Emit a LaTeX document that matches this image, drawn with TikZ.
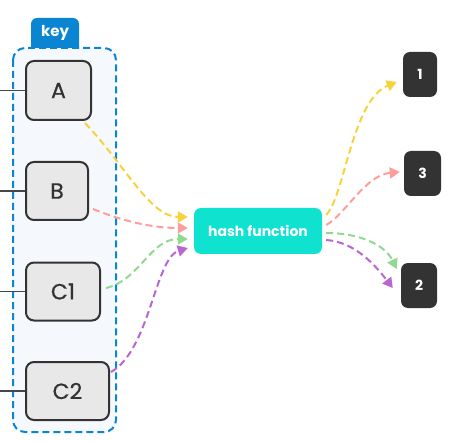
\documentclass[tikz,border=0pt]{standalone}
\usepackage{fontspec}
\setmainfont{Poppins}
\newfontfamily\medfont[FakeBold=0.7]{Poppins}
\usetikzlibrary{arrows.meta}
\definecolor{keyblue}{HTML}{0A85D1}
\definecolor{boxfill}{HTML}{E8E8E8}
\definecolor{boxline}{HTML}{333333}
\definecolor{cfill}{HTML}{F5F9FD}
\definecolor{hashc}{HTML}{0FE3CF}
\definecolor{outc}{HTML}{333333}
\definecolor{cyel}{HTML}{F7D23A}
\definecolor{cpink}{HTML}{FF9C9C}
\definecolor{cgreen}{HTML}{8FDA8F}
\definecolor{cpurp}{HTML}{B866D2}
\tikzset{
  keybox/.style={draw=boxline,line width=2pt,fill=boxfill,rounded corners=8pt,inner sep=0pt,font=\medfont\fontsize{22}{24}\selectfont,text=boxline},
  outbox/.style={fill=outc,rounded corners=7pt,inner sep=0pt,text=white,font=\fontsize{14}{16}\selectfont\bfseries},
  lead/.style={draw=boxline!90,line width=1.5pt},
  flow/.style={line width=2pt,dash pattern=on 7pt off 4pt,-{Triangle[length=10pt,width=11pt]}},
}
\begin{document}
\begin{tikzpicture}[x=1pt,y=-1pt]
\useasboundingbox (0,0) rectangle (461,441);
% container
\draw[keyblue,line width=2pt,dash pattern=on 7pt off 4pt,fill=cfill,rounded corners=12pt] (13,48) rectangle (116,432);
% key tab
\fill[keyblue] (31,48) [rounded corners=6pt] -- (31,18) -- (79,18) [sharp corners] -- (79,48) -- cycle;
\node[text=white,font=\fontsize{15}{17}\selectfont\bfseries] (keylbl) at (55,33) {key};
% key boxes
\node[keybox,minimum width=65pt,minimum height=59pt] (A) at (58.5,90.5) {A};
\node[keybox,minimum width=62pt,minimum height=58pt] (B) at (57,191) {B};
\node[keybox,minimum width=74pt,minimum height=58pt] (C1) at (63,291.5) {C1};
\node[keybox,minimum width=83pt,minimum height=58pt] (C2) at (67.5,391) {C2};
% leads
\coordinate (la) at (0,90.5);
\coordinate (lb) at (0,191);
\coordinate (lc1) at (0,291.5);
\coordinate (lc2) at (0,391);
\draw[lead] (la) -- (A.west);
\draw[lead] (lb) -- (B.west);
\draw[lead] (lc1) -- (C1.west);
\draw[lead] (lc2) -- (C2.west);
% hash
\node[fill=hashc,rounded corners=7pt,minimum width=128pt,minimum height=46pt,inner sep=0pt,text=white,font=\fontsize{14}{16}\selectfont\bfseries] (H) at (258,231) {hash function};
% outputs
\node[outbox,minimum width=34pt,minimum height=45pt] (O1) at (420,74.5) {1};
\node[outbox,minimum width=37pt,minimum height=45pt] (O3) at (422.5,173.5) {3};
\node[outbox,minimum width=36pt,minimum height=45pt] (O2) at (419,285.5) {2};
% flows in
\draw[flow,cyel] ([xshift=-7pt,yshift=-2pt]A.south east) .. controls (125,165) and (150,217) .. ([xshift=-6pt,yshift=14pt]H.west);
\draw[flow,cpink] ([xshift=4pt,yshift=-18pt]B.east) .. controls (120,220) and (150,228) .. ([xshift=-6pt,yshift=3pt]H.west);
\draw[flow,cgreen] ([xshift=5pt,yshift=3.5pt]C1.east) .. controls (140,280) and (150,239) .. ([xshift=-6pt,yshift=-8pt]H.west);
\draw[flow,cpurp] ([xshift=1pt,yshift=19pt]C2.east) .. controls (150,350) and (155,258) .. ([xshift=-6pt,yshift=-17pt]H.west);
% flows out
\draw[flow,cyel] ([xshift=4pt,yshift=16pt]H.east) .. controls (345,195) and (352,100) .. ([xshift=-6pt,yshift=-7.5pt]O1.west);
\draw[flow,cpink] ([xshift=4pt,yshift=6pt]H.east) .. controls (345,215) and (365,175) .. ([xshift=-4pt,yshift=1.5pt]O3.west);
\draw[flow,cgreen] ([xshift=4pt,yshift=-2pt]H.east) .. controls (360,233) and (385,245) .. ([xshift=-4pt,yshift=16.5pt]O2.west);
\draw[flow,cpurp] ([xshift=4pt,yshift=-9pt]H.east) .. controls (355,242) and (375,265) .. ([xshift=-8pt,yshift=-2.5pt]O2.west);
\end{tikzpicture}
\end{document}
